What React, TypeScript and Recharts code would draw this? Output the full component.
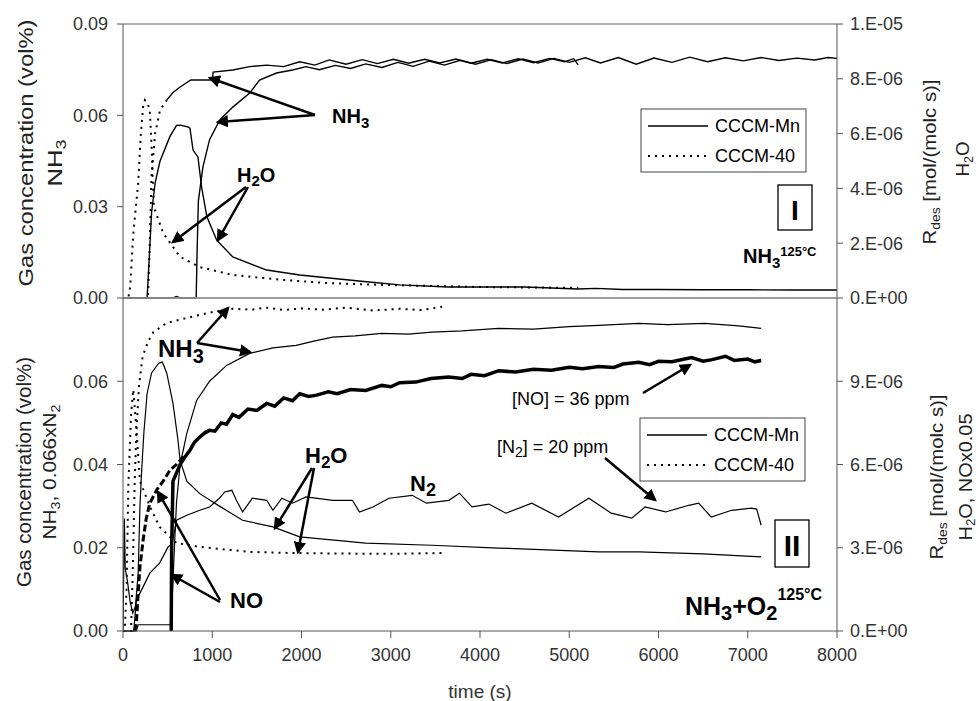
import React from "react";
import { LineChart, Line, XAxis, YAxis, ReferenceLine } from "recharts";

type Pt = [number, number];

// ---------- panel I : NH3 desorption at 125 °C ----------
// NH3 in vol% (left axis)
const topNh3Mn: Pt[] = [
  [0, 0], [300, 0], [560, 0], [600, 0.0005], [640, 0], [820, 0], [830, 0.015], [845, 0.032],
  [895, 0.043], [970, 0.052], [1085, 0.0585], [1230, 0.0627], [1420, 0.0673], [1530, 0.0716],
  [1720, 0.0739], [1900, 0.0749], [2050, 0.076], [2200, 0.075], [2380, 0.0764], [2550, 0.0754],
  [2720, 0.0769], [2900, 0.0757], [3080, 0.0774], [3250, 0.0761], [3430, 0.0778], [3600, 0.0765],
  [3780, 0.0781], [3950, 0.0768], [4130, 0.0783], [4300, 0.077], [4480, 0.0785], [4650, 0.0772],
  [4830, 0.0787], [5000, 0.0774], [5180, 0.0789], [5350, 0.0772], [5550, 0.079], [5750, 0.0768],
  [5950, 0.0788], [6150, 0.0774], [6350, 0.0791], [6550, 0.0776], [6750, 0.0789], [6950, 0.0779],
  [7150, 0.079], [7350, 0.078], [7550, 0.0788], [7750, 0.0782], [7900, 0.079], [8000, 0.0787],
];
const topNh3C40: Pt[] = [
  [0, 0], [280, 0], [300, 0.018], [320, 0.04], [360, 0.054], [415, 0.0617], [490, 0.065],
  [560, 0.0675], [640, 0.0693], [760, 0.0716], [1000, 0.0716], [1010, 0.0742], [1230, 0.0749],
  [1420, 0.076], [1610, 0.0765], [1800, 0.076], [1980, 0.0776], [2150, 0.0765], [2310, 0.0782],
  [2500, 0.0768], [2680, 0.0783], [2850, 0.077], [3030, 0.0784], [3200, 0.0771], [3380, 0.0784],
  [3550, 0.0772], [3730, 0.0785], [3900, 0.0771], [4080, 0.0784], [4250, 0.0772], [4430, 0.0786],
  [4600, 0.0773], [4780, 0.0787], [4950, 0.0776], [5050, 0.0786], [5100, 0.0766],
];
// H2O as Rdes, mol/(molc s) (right axis)
const topH2oMn: Pt[] = [
  [0, 0], [270, 0], [290, 1.2e-6], [320, 3.11e-6], [360, 4.2e-6], [415, 5.0e-6], [525, 5.89e-6],
  [600, 6.3e-6], [640, 6.31e-6], [720, 6.25e-6], [750, 6.2e-6], [785, 5.4e-6], [840, 5.14e-6],
  [880, 4.06e-6], [940, 2.96e-6], [1050, 2.11e-6], [1230, 1.5e-6], [1610, 1.02e-6],
  [1980, 0.84e-6], [2310, 0.73e-6], [2700, 0.6e-6], [3100, 0.48e-6], [3650, 0.4e-6],
  [4500, 0.4e-6], [5100, 0.33e-6], [5300, 0.35e-6], [5600, 0.31e-6], [6000, 0.31e-6],
  [6500, 0.3e-6], [7000, 0.3e-6], [7500, 0.29e-6], [8000, 0.29e-6],
];
const topH2oC40: Pt[] = [
  [0, 0], [60, 0], [80, 0.4e-6], [115, 2.33e-6], [170, 4.19e-6], [200, 6.0e-6], [225, 6.97e-6],
  [245, 7.22e-6], [275, 7.11e-6], [300, 6.86e-6], [320, 5.56e-6], [345, 3.33e-6], [450, 2.37e-6],
  [640, 1.5e-6], [860, 1.13e-6], [1230, 0.84e-6], [1790, 0.66e-6], [2310, 0.54e-6],
  [3000, 0.47e-6], [4000, 0.4e-6], [5100, 0.37e-6],
];

// ---------- panel II : NH3 + O2 at 125 °C ----------
// NH3 and 0.066xN2 in vol% (left axis)
const botNh3Mn: Pt[] = [
  [0, 0], [150, 0], [170, 0.0015], [530, 0.0015], [545, 0.005], [560, 0.012], [580, 0.022],
  [600, 0.031], [640, 0.04], [715, 0.0475], [825, 0.0554], [970, 0.06], [1160, 0.0638],
  [1420, 0.0667], [1680, 0.068], [1940, 0.0686], [2150, 0.0697], [2350, 0.0706], [2600, 0.0709],
  [2900, 0.0715], [3200, 0.0713], [3460, 0.0718], [3800, 0.0721], [4210, 0.0727], [4600, 0.0725],
  [5000, 0.0731], [5330, 0.0734], [5780, 0.0739], [6100, 0.0736], [6520, 0.0739], [6900, 0.0733],
  [7150, 0.0727],
];
const botNh3C40: Pt[] = [
  [0, 0], [90, 0], [110, 0.015], [130, 0.035], [150, 0.048], [180, 0.059], [220, 0.066],
  [280, 0.0695], [340, 0.0718], [490, 0.074], [715, 0.0752], [970, 0.0765], [1230, 0.0774],
  [1450, 0.0772], [1600, 0.0777], [1800, 0.0771], [2000, 0.0775], [2250, 0.0772], [2500, 0.0777],
  [2800, 0.077], [3100, 0.0774], [3350, 0.0771], [3575, 0.0779],
];
const botN2Mn: Pt[] = [
  [0, 0], [120, 0], [150, 0.0074], [225, 0.0106], [300, 0.0139], [410, 0.0163], [505, 0.0202],
  [550, 0.021], [600, 0.0266], [715, 0.0278], [860, 0.029], [970, 0.0298], [1080, 0.0319],
  [1140, 0.0334], [1220, 0.0338], [1270, 0.0314], [1340, 0.0286], [1450, 0.0319], [1610, 0.0314],
  [1680, 0.029], [1780, 0.0319], [1900, 0.0307], [2050, 0.0322], [2350, 0.0314], [2570, 0.0314],
  [2650, 0.0286], [2800, 0.0298], [2980, 0.0319], [3240, 0.0326], [3400, 0.0307], [3650, 0.0314],
  [3770, 0.0331], [3910, 0.0298], [4100, 0.0305], [4290, 0.0283], [4580, 0.0307], [4880, 0.0274],
  [5220, 0.0319], [5470, 0.0283], [5700, 0.0271], [5850, 0.0298], [6080, 0.0286], [6340, 0.0302],
  [6450, 0.0307], [6590, 0.0274], [6820, 0.029], [7040, 0.0295], [7100, 0.0293], [7150, 0.0254],
];
// H2O and NOx0.05 as Rdes, mol/(molc s) (right axis)
const botH2oMn: Pt[] = [
  [0, 0], [15, 4.05e-6], [25, 2.25e-6], [50, 1.8e-6], [80, 1.05e-6], [110, 0.65e-6], [140, 0.9e-6],
  [170, 2.1e-6], [190, 4.5e-6], [210, 5.85e-6], [235, 7.2e-6], [270, 8.55e-6], [320, 9.3e-6],
  [400, 9.65e-6], [440, 9.69e-6], [490, 9.3e-6], [560, 8.2e-6], [615, 6.9e-6], [640, 6.15e-6],
  [715, 5.4e-6], [860, 4.95e-6], [1080, 4.5e-6], [1340, 3.99e-6], [1680, 3.75e-6], [1980, 3.39e-6],
  [2720, 3.17e-6], [3460, 3.09e-6], [4210, 2.99e-6], [5330, 2.85e-6], [5780, 2.85e-6],
  [6500, 2.78e-6], [7150, 2.67e-6],
];
const botH2oC40: Pt[] = [
  [0, 0], [20, 0], [40, 1.5e-6], [60, 5.25e-6], [90, 7.8e-6], [115, 8.7e-6], [145, 7.5e-6],
  [190, 5.4e-6], [300, 4.5e-6], [410, 3.75e-6], [600, 3.17e-6], [860, 3.03e-6], [1420, 2.85e-6],
  [1900, 2.81e-6], [2500, 2.79e-6], [3000, 2.78e-6], [3575, 2.81e-6],
];
const botNoMn: Pt[] = [
  [540, 0], [545, 3.0e-6], [560, 5.4e-6], [600, 5.7e-6], [640, 6.0e-6], [700, 6.3e-6],
  [750, 6.51e-6], [800, 6.8e-6], [860, 6.99e-6], [920, 7.15e-6], [970, 7.23e-6], [1030, 7.2e-6],
  [1100, 7.5e-6], [1160, 7.45e-6], [1230, 7.8e-6], [1300, 7.7e-6], [1400, 8.0e-6], [1500, 7.95e-6],
  [1610, 8.2e-6], [1700, 8.1e-6], [1800, 8.4e-6], [1900, 8.3e-6], [1980, 8.55e-6], [2080, 8.45e-6],
  [2170, 8.5e-6], [2300, 8.62e-6], [2400, 8.55e-6], [2550, 8.7e-6], [2720, 8.67e-6],
  [2900, 8.85e-6], [3000, 8.8e-6], [3100, 8.95e-6], [3280, 8.97e-6], [3450, 9.1e-6],
  [3650, 9.15e-6], [3800, 9.1e-6], [3900, 9.25e-6], [4050, 9.2e-6], [4210, 9.38e-6],
  [4400, 9.33e-6], [4600, 9.43e-6], [4800, 9.4e-6], [5000, 9.5e-6], [5150, 9.45e-6],
  [5330, 9.53e-6], [5500, 9.5e-6], [5600, 9.62e-6], [5780, 9.68e-6], [5900, 9.6e-6],
  [6000, 9.72e-6], [6150, 9.7e-6], [6370, 9.85e-6], [6500, 9.72e-6], [6600, 9.78e-6],
  [6750, 9.9e-6], [6850, 9.75e-6], [7000, 9.8e-6], [7080, 9.7e-6], [7150, 9.75e-6],
];
const botNoC40: Pt[] = [
  [130, 0], [150, 0.3e-6], [170, 1.35e-6], [190, 2.31e-6], [225, 3.27e-6], [260, 4.05e-6],
  [300, 4.6e-6], [380, 5.1e-6], [450, 5.4e-6], [525, 5.79e-6], [600, 6.0e-6], [680, 6.3e-6],
];

// ticks
const timeTicks = [0, 1000, 2000, 3000, 4000, 5000, 6000, 7000, 8000];
const topTimeTicks = [0, 1333.3, 2666.7, 4000, 5333.3, 6666.7, 8000];
const topLeftTicks = [0, 0.03, 0.06, 0.09];
const topRightTicks = [0, 2e-6, 4e-6, 6e-6, 8e-6, 1e-5];
const botLeftTicks = [0, 0.02, 0.04, 0.06];
const botRightTicks = [0, 3e-6, 6e-6, 9e-6];

const FONT = "'Liberation Sans', Arial, Helvetica, sans-serif";
const AXIS = "#555";
const DOTS = "2 5";

const rows = (pts: Pt[]) => pts.map(([t, v]) => ({ t, v }));

const sci = (v: number) => {
  if (v === 0) return "0.E+00";
  const e = Math.floor(Math.log10(v) + 1e-9);
  const m = Math.round(v / Math.pow(10, e));
  return `${m}.E${e < 0 ? "-" : "+"}${String(Math.abs(e)).padStart(2, "0")}`;
};

const tickStyle = { fontSize: 18, fill: "#333", fontFamily: FONT };

const Arrow = ({ x1, y1, x2, y2 }: { x1: number; y1: number; x2: number; y2: number }) => (
  <line x1={x1} y1={y1} x2={x2} y2={y2} stroke="#000" strokeWidth={2.5} markerEnd="url(#ah)" />
);

function LegendBox({ x, y }: { x: number; y: number }) {
  return (
    <g>
      <rect x={x} y={y} width={165} height={63} fill="#fff" stroke="#444" strokeWidth={1} />
      <line x1={x + 7} x2={x + 67} y1={y + 17} y2={y + 17} stroke="#000" strokeWidth={1.4} />
      <line x1={x + 7} x2={x + 67} y1={y + 47} y2={y + 47} stroke="#000" strokeWidth={2} strokeDasharray={DOTS} />
      <text x={x + 74} y={y + 23} fontSize={18}>CCCM-Mn</text>
      <text x={x + 74} y={y + 53} fontSize={18}>CCCM-40</text>
    </g>
  );
}

function VTitle({ x, y, len, size, children }: any) {
  return (
    <text
      transform={`translate(${x},${y}) rotate(-90)`}
      textAnchor="middle"
      fontSize={size}
      textLength={len}
      lengthAdjust="spacingAndGlyphs"
      fill="#222"
    >
      {children}
    </text>
  );
}

function Overlay() {
  return (
    <svg
      width={980}
      height={701}
      style={{ position: "absolute", left: 0, top: 0, pointerEvents: "none" }}
      fontFamily={FONT}
    >
      <defs>
        <marker id="ah" viewBox="0 0 10 10" refX="8" refY="5" markerWidth="5" markerHeight="5" orient="auto">
          <path d="M0,0 L10,5 L0,10 z" fill="#000" />
        </marker>
      </defs>

      {/* axis titles */}
      <VTitle x={33} y={153} len={267} size={21}>Gas concentration (vol%)</VTitle>
      <VTitle x={62} y={163} len={47} size={20}>
        NH<tspan fontSize={14} dy={4}>3</tspan>
      </VTitle>
      <VTitle x={31} y={472} len={230} size={20}>Gas concentration (vol%)</VTitle>
      <VTitle x={56} y={472} len={135} size={19}>
        NH<tspan fontSize={13} dy={4}>3</tspan><tspan dy={-4}>, 0.066xN</tspan><tspan fontSize={13} dy={4}>2</tspan>
      </VTitle>
      <VTitle x={936} y={162} len={165} size={19}>
        R<tspan fontSize={13} dy={4}>des</tspan><tspan dy={-4}> [mol/(molc s)]</tspan>
      </VTitle>
      <VTitle x={969} y={159} len={35} size={18}>
        H<tspan fontSize={12} dy={4}>2</tspan><tspan dy={-4}>O</tspan>
      </VTitle>
      <VTitle x={943} y={477} len={165} size={19}>
        R<tspan fontSize={13} dy={4}>des</tspan><tspan dy={-4}> [mol/(molc s)]</tspan>
      </VTitle>
      <VTitle x={972} y={477} len={127} size={18}>
        H<tspan fontSize={12} dy={3}>2</tspan><tspan dy={-3}>O, NOx0.05</tspan>
      </VTitle>

      {/* panel I annotations */}
      <text x={332} y={123} fontSize={20} fontWeight="bold">
        NH<tspan fontSize={15} dy={5}>3</tspan>
      </text>
      <Arrow x1={315} y1={115} x2={210} y2={78} />
      <Arrow x1={315} y1={115} x2={218} y2={122} />
      <text x={237} y={182} fontSize={20} fontWeight="bold">
        H<tspan fontSize={15} dy={4}>2</tspan><tspan dy={-4}>O</tspan>
      </text>
      <Arrow x1={246} y1={187} x2={173} y2={242} />
      <Arrow x1={248} y1={187} x2={218} y2={240} />
      <LegendBox x={641} y={109} />
      <rect x={778} y={185} width={34} height={45} fill="#fff" stroke="#000" strokeWidth={1.3} />
      <text x={795} y={220} fontSize={28} fontWeight="bold" textAnchor="middle">I</text>
      <text x={743} y={263} fontSize={20} fontWeight="bold">
        NH<tspan fontSize={15} dy={5}>3</tspan>
        <tspan fontSize={13} dy={-12}>125°C</tspan>
      </text>

      {/* panel II annotations */}
      <text x={158} y={357} fontSize={24} fontWeight="bold">
        NH<tspan fontSize={20} dy={6}>3</tspan>
      </text>
      <Arrow x1={197} y1={343} x2={228} y2={308} />
      <Arrow x1={197} y1={343} x2={250} y2={352} />
      <text x={305} y={463} fontSize={22} fontWeight="bold">
        H<tspan fontSize={17} dy={5}>2</tspan><tspan dy={-5}>O</tspan>
      </text>
      <Arrow x1={312} y1={468} x2={275} y2={528} />
      <Arrow x1={314} y1={468} x2={298} y2={552} />
      <text x={410} y={491} fontSize={22} fontWeight="bold">
        N<tspan fontSize={18} dy={5}>2</tspan>
      </text>
      <text x={230} y={608} fontSize={22} fontWeight="bold">NO</text>
      <Arrow x1={220} y1={600} x2={158} y2={492} />
      <Arrow x1={220} y1={602} x2={172} y2={575} />
      <text x={512} y={405} fontSize={18}>[NO] = 36 ppm</text>
      <Arrow x1={643} y1={393} x2={690} y2={365} />
      <text x={497} y={453} fontSize={18}>
        [N<tspan fontSize={14} dy={4}>2</tspan><tspan dy={-4}>] = 20 ppm</tspan>
      </text>
      <Arrow x1={605} y1={458} x2={655} y2={500} />
      <LegendBox x={640} y={418} />
      <rect x={775} y={520} width={34} height={47} fill="#fff" stroke="#000" strokeWidth={1.3} />
      <text x={792} y={556} fontSize={30} fontWeight="bold" textAnchor="middle">II</text>
      <text x={685} y={615} fontSize={25} fontWeight="bold">
        NH<tspan fontSize={20} dy={5}>3</tspan><tspan dy={-5}>+O</tspan><tspan fontSize={20} dy={5}>2</tspan>
        <tspan fontSize={16} dy={-20}>125°C</tspan>
      </text>
    </svg>
  );
}

export default function App() {
  const solid = { dot: false as const, isAnimationActive: false, stroke: "#000", strokeWidth: 1.4 };
  const dotted = { ...solid, strokeWidth: 2, strokeDasharray: DOTS };
  const topC40Early = topNh3C40.filter(([t]) => t <= 490);
  const topC40Late = topNh3C40.filter(([t]) => t >= 490);

  return (
    <div style={{ position: "absolute", left: 0, top: 0, width: 980, height: 701, background: "#fff", fontFamily: FONT }}>
      <div style={{ position: "absolute", left: 0, top: 0 }}>
        <LineChart width={980} height={310} margin={{ top: 24, right: 0, bottom: 0, left: 0 }}>
          <XAxis type="number" dataKey="t" domain={[0, 8000]} ticks={topTimeTicks} tick={false}
            tickSize={7} height={12} stroke={AXIS} allowDataOverflow />
          <YAxis yAxisId="left" domain={[0, 0.09]} ticks={topLeftTicks} width={123} tickSize={6}
            tickMargin={9} stroke={AXIS} tick={tickStyle} tickFormatter={(v: number) => v.toFixed(2)} />
          <YAxis yAxisId="right" orientation="right" domain={[0, 1e-5]} ticks={topRightTicks} width={143}
            tickSize={6} tickMargin={7} stroke={AXIS} tick={tickStyle} tickFormatter={sci} />
          <ReferenceLine yAxisId="left" y={0.09} stroke="#999" strokeWidth={1.5} ifOverflow="visible" />
          <Line yAxisId="right" data={rows(topH2oC40)} dataKey="v" {...dotted} />
          <Line yAxisId="right" data={rows(topH2oMn)} dataKey="v" {...solid} />
          <Line yAxisId="left" data={rows(topC40Early)} dataKey="v" {...dotted} />
          <Line yAxisId="left" data={rows(topC40Late)} dataKey="v" {...solid} />
          <Line yAxisId="left" data={rows(topNh3Mn)} dataKey="v" {...solid} />
        </LineChart>
      </div>
      <div style={{ position: "absolute", left: 0, top: 0 }}>
        <LineChart width={980} height={701} margin={{ top: 298, right: 0, bottom: 0, left: 0 }}>
          <XAxis type="number" dataKey="t" domain={[0, 8000]} ticks={timeTicks} height={70} tickSize={7}
            tickMargin={10} stroke={AXIS} tick={tickStyle} allowDataOverflow
            label={{ value: "time (s)", position: "insideBottom", offset: 3, fontSize: 19, fill: "#333", fontFamily: FONT }} />
          <YAxis yAxisId="left" domain={[0, 0.08]} ticks={botLeftTicks} width={123} tickSize={6}
            tickMargin={9} stroke={AXIS} tick={tickStyle} tickFormatter={(v: number) => v.toFixed(2)} />
          <YAxis yAxisId="right" orientation="right" domain={[0, 1.2e-5]} ticks={botRightTicks} width={143}
            tickSize={6} tickMargin={7} stroke={AXIS} tick={tickStyle} tickFormatter={sci} />
          <ReferenceLine yAxisId="left" y={0.08} stroke="#999" strokeWidth={1.5} ifOverflow="visible" />
          <Line yAxisId="left" data={rows(botNh3C40)} dataKey="v" {...dotted} />
          <Line yAxisId="right" data={rows(botH2oC40)} dataKey="v" {...dotted} />
          <Line yAxisId="right" data={rows(botNoC40)} dataKey="v" {...solid} strokeWidth={3} strokeDasharray="7 3" />
          <Line yAxisId="left" data={rows(botNh3Mn)} dataKey="v" {...solid} strokeWidth={1.2} />
          <Line yAxisId="left" data={rows(botN2Mn)} dataKey="v" {...solid} strokeWidth={1.2} />
          <Line yAxisId="right" data={rows(botH2oMn)} dataKey="v" {...solid} strokeWidth={1.2} />
          <Line yAxisId="right" data={rows(botNoMn)} dataKey="v" {...solid} strokeWidth={3.5} />
        </LineChart>
      </div>
      <Overlay />
    </div>
  );
}
